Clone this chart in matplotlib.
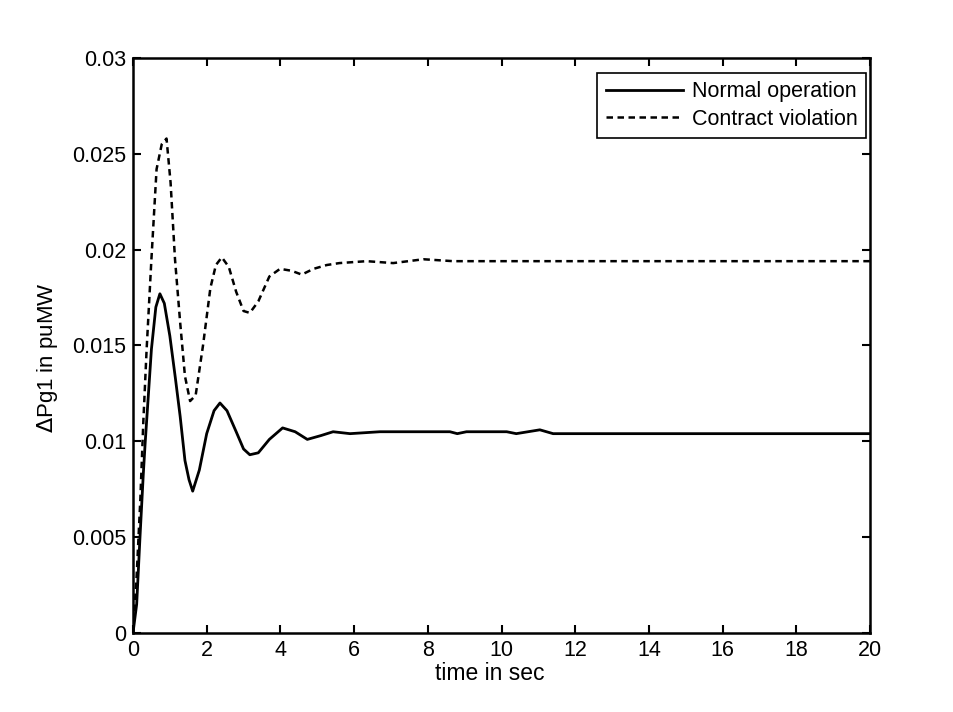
import numpy as np
import matplotlib
matplotlib.use("Agg")
import matplotlib.pyplot as plt

plt.rcParams['font.family'] = ['Liberation Sans', 'DejaVu Sans']

# time points and response of generator 1 (normal operation)
t_normal = [0, 0.1, 0.19, 0.28, 0.33, 0.5, 0.62, 0.73, 0.85, 1.0, 1.15, 1.28, 1.41,
            1.52, 1.62, 1.8, 2.0, 2.2, 2.36, 2.55, 2.8, 3.0, 3.17, 3.4, 3.7, 4.06,
            4.4, 4.73, 5.1, 5.43, 5.89, 6.7, 8.6, 8.8, 9.05, 10.14, 10.4, 11.04,
            11.4, 20]
dp_normal = [0, 0.0015, 0.0050, 0.0083, 0.0099, 0.0148, 0.0170, 0.0177, 0.0172,
             0.0155, 0.0133, 0.0113, 0.0090, 0.0080, 0.0074, 0.0085, 0.0104,
             0.0116, 0.0120, 0.0116, 0.0105, 0.0096, 0.0093, 0.0094, 0.0101,
             0.0107, 0.0105, 0.0101, 0.0103, 0.0105, 0.0104, 0.0105, 0.0105,
             0.0104, 0.0105, 0.0105, 0.0104, 0.0106, 0.0104, 0.0104]

# response with contract violation
t_viol = [0, 0.1, 0.2, 0.28, 0.37, 0.5, 0.64, 0.78, 0.91, 1.02, 1.14, 1.28, 1.41,
          1.55, 1.7, 1.9, 2.1, 2.25, 2.41, 2.6, 2.8, 3.0, 3.17, 3.4, 3.7, 3.99,
          4.3, 4.58, 4.9, 5.26, 5.6, 6.34, 7.06, 7.88, 8.69, 20]
dp_viol = [0, 0.003, 0.007, 0.0110, 0.0148, 0.0195, 0.0242, 0.0255, 0.0258, 0.0235,
           0.0195, 0.0162, 0.0134, 0.0121, 0.0124, 0.0150, 0.0180, 0.0192, 0.0196,
           0.0191, 0.0178, 0.0168, 0.0167, 0.0173, 0.0186, 0.0190, 0.0189, 0.0187,
           0.0190, 0.0192, 0.0193, 0.0194, 0.0193, 0.0195, 0.0194, 0.0194]

xticks = [0, 2, 4, 6, 8, 10, 12, 14, 16, 18, 20]
yticks = [0, 0.005, 0.01, 0.015, 0.02, 0.025, 0.03]
yticklabels = ['0', '0.005', '0.01', '0.015', '0.02', '0.025', '0.03']


fig = plt.figure(figsize=(9.54, 7.12), dpi=100)
ax = fig.add_axes([0.1394, 0.111, 0.7726, 0.8075])

ax.plot(t_normal, dp_normal, color='black', lw=2.0, label='Normal operation')
ax.plot(t_viol, dp_viol, color='black', lw=1.8, linestyle=(0, (2.6, 1.8)),
        label='Contract violation')

ax.set_xlim(0, 20)
ax.set_ylim(0, 0.03)
ax.set_xticks(xticks)
ax.set_yticks(yticks)
ax.set_yticklabels(yticklabels)
ax.tick_params(direction='in', length=6, width=1.5, top=True, right=True,
               labelsize=15.5, pad=5)
for s in ax.spines.values():
    s.set_linewidth(1.8)

ax.set_xlabel('time in sec', fontsize=16.5)
ax.xaxis.set_label_coords(0.484, -0.05)
ax.set_ylabel(r'$\Delta$Pg1 in puMW', fontsize=16)
ax.yaxis.set_label_coords(-0.099, 0.478)

leg = ax.legend(loc='upper right', bbox_to_anchor=(0.9946, 0.9744),
                borderaxespad=0, fontsize=15.5, fancybox=False, framealpha=1,
                edgecolor='black', handlelength=3.6, handletextpad=0.4,
                borderpad=0.4, labelspacing=0.3)
leg.get_frame().set_linewidth(1.2)

fig.savefig('out.png', dpi=100)
